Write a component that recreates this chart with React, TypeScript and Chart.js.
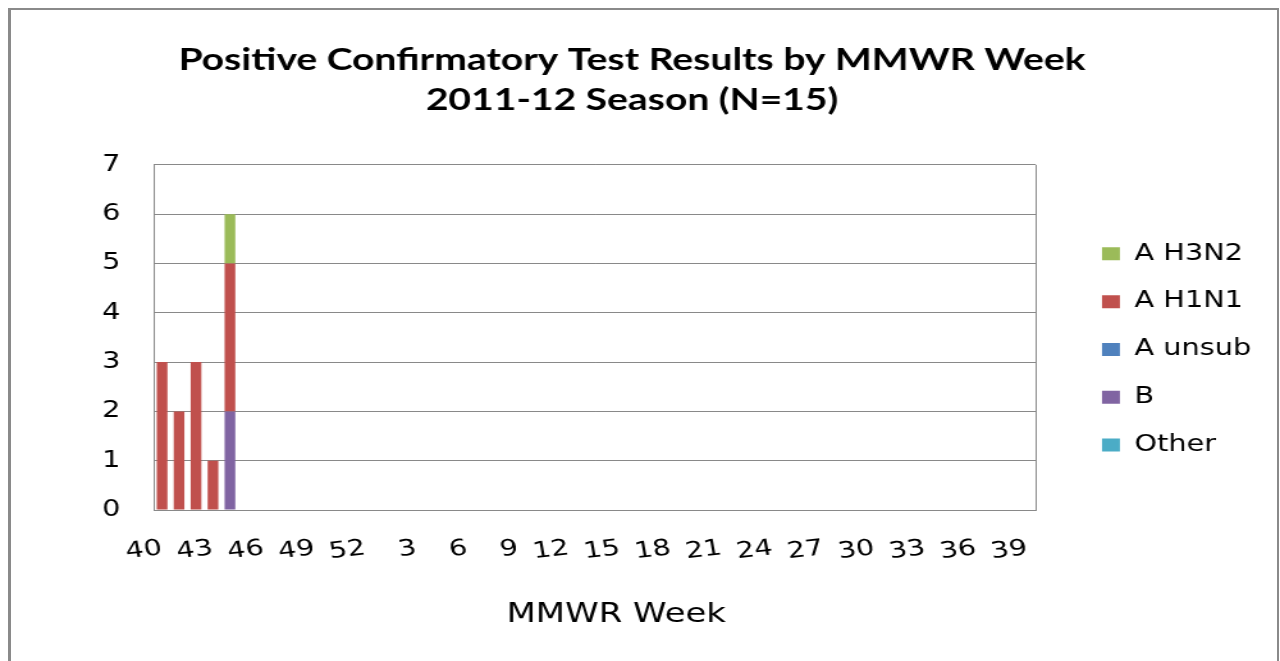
import React, { useEffect, useRef } from 'react';
import { Chart, registerables } from 'chart.js';

Chart.register(...registerables);

// MMWR weeks of the 2011-12 season
const weeks = [
  '40', '41', '42', '43', '44', '45', '46', '47', '48', '49', '50', '51', '52',
  '1', '2', '3', '4', '5', '6', '7', '8', '9', '10', '11', '12', '13',
  '14', '15', '16', '17', '18', '19', '20', '21', '22', '23', '24', '25', '26',
  '27', '28', '29', '30', '31', '32', '33', '34', '35', '36', '37', '38', '39',
];

// tick labels shown on the category axis
const shownTicks = ['40', '43', '46', '49', '52', '3', '6', '9', '12', '15', '18', '21', '24', '27', '30', '33', '36', '39'];

const yTicks = [0, 1, 2, 3, 4, 5, 6, 7];

// series values (per week)
const aH3N2 = [
  0, 0, 0, 0, 1, 0, 0, 0, 0, 0, 0, 0, 0,
  0, 0, 0, 0, 0, 0, 0, 0, 0, 0, 0, 0, 0,
  0, 0, 0, 0, 0, 0, 0, 0, 0, 0, 0, 0, 0,
  0, 0, 0, 0, 0, 0, 0, 0, 0, 0, 0, 0, 0,
];
const aH1N1 = [
  3, 2, 3, 1, 3, 0, 0, 0, 0, 0, 0, 0, 0,
  0, 0, 0, 0, 0, 0, 0, 0, 0, 0, 0, 0, 0,
  0, 0, 0, 0, 0, 0, 0, 0, 0, 0, 0, 0, 0,
  0, 0, 0, 0, 0, 0, 0, 0, 0, 0, 0, 0, 0,
];
const aUnsub = [
  0, 0, 0, 0, 0, 0, 0, 0, 0, 0, 0, 0, 0,
  0, 0, 0, 0, 0, 0, 0, 0, 0, 0, 0, 0, 0,
  0, 0, 0, 0, 0, 0, 0, 0, 0, 0, 0, 0, 0,
  0, 0, 0, 0, 0, 0, 0, 0, 0, 0, 0, 0, 0,
];
const typeB = [
  0, 0, 0, 0, 2, 0, 0, 0, 0, 0, 0, 0, 0,
  0, 0, 0, 0, 0, 0, 0, 0, 0, 0, 0, 0, 0,
  0, 0, 0, 0, 0, 0, 0, 0, 0, 0, 0, 0, 0,
  0, 0, 0, 0, 0, 0, 0, 0, 0, 0, 0, 0, 0,
];
const other = [
  0, 0, 0, 0, 0, 0, 0, 0, 0, 0, 0, 0, 0,
  0, 0, 0, 0, 0, 0, 0, 0, 0, 0, 0, 0, 0,
  0, 0, 0, 0, 0, 0, 0, 0, 0, 0, 0, 0, 0,
  0, 0, 0, 0, 0, 0, 0, 0, 0, 0, 0, 0, 0,
];

const titleLines = ['Positive Confirmatory Test Results by MMWR Week', '2011-12 Season (N=15)'];
const xTitle = 'MMWR Week';

const GRAY = '#898989';
const TEXT = '#000000';

const plotBorder = {
  id: 'plotBorder',
  beforeDatasetsDraw(chart: any) {
    const { ctx, chartArea } = chart;
    ctx.save();
    ctx.strokeStyle = GRAY;
    ctx.lineWidth = 1;
    ctx.beginPath();
    ctx.moveTo(Math.round(chartArea.right) + 0.5, chartArea.top);
    ctx.lineTo(Math.round(chartArea.right) + 0.5, chartArea.bottom);
    ctx.stroke();
    ctx.restore();
  },
};

export default function App() {
  const ref = useRef<HTMLCanvasElement | null>(null);

  useEffect(() => {
    const canvas = ref.current;
    if (!canvas) return;
    const bar = (label: string, data: number[], color: string) => ({
      label,
      data,
      backgroundColor: color,
      borderWidth: 0,
      barPercentage: 0.63,
      categoryPercentage: 1,
    });
    const chart = new Chart(canvas, {
      type: 'bar',
      data: {
        labels: weeks,
        datasets: [
          bar('Other', other, '#4BACC6'),
          bar('B', typeB, '#8064A2'),
          bar('A unsub', aUnsub, '#4F81BD'),
          bar('A H1N1', aH1N1, '#C0504D'),
          bar('A H3N2', aH3N2, '#9BBB59'),
        ],
      },
      options: {
        responsive: false,
        animation: false,
        devicePixelRatio: 1,
        layout: { padding: { left: 0, right: 12.5, top: 0, bottom: 0 } },
        plugins: {
          tooltip: { enabled: false },
          title: {
            display: true,
            text: titleLines,
            color: TEXT,
            font: { family: 'Lato', weight: 'bold', size: 30.5, lineHeight: 1.31 },
            padding: { top: 40, bottom: 45 },
          },
          legend: {
            display: true,
            position: 'right',
            fullSize: false,
            reverse: true,
            title: { display: true, text: '', font: { size: 10 }, padding: { top: 6, bottom: 6 } },
            labels: {
              boxWidth: 14,
              boxHeight: 13,
              padding: 25.3,
              color: TEXT,
              font: { family: 'DejaVu Sans', size: 22.5 },
            },
          },
        },
        scales: {
          x: {
            stacked: true,
            grid: { display: false, drawTicks: false },
            border: { display: true, color: GRAY, width: 1 },
            ticks: {
              autoSkip: false,
              minRotation: 8,
              maxRotation: 8,
              padding: 25,
              color: TEXT,
              font: { family: 'DejaVu Sans', size: 22.5 },
              callback: (_v: any, i: number) => (shownTicks.includes(weeks[i]) ? weeks[i] : ''),
            },
            title: {
              display: true,
              text: '    ' + xTitle,
              color: TEXT,
              font: { family: 'DejaVu Sans', size: 26.5 },
              padding: { top: 0, bottom: 30 },
            },
            afterFit: (s: any) => {
              s.height = 151;
            },
          },
          y: {
            stacked: true,
            min: yTicks[0],
            max: yTicks[yTicks.length - 1],
            grid: { display: true, color: GRAY, lineWidth: 1, drawTicks: false },
            border: { display: true, color: GRAY, width: 1 },
            ticks: {
              stepSize: 1,
              padding: 26,
              color: TEXT,
              font: { family: 'DejaVu Sans', size: 22.5 },
            },
            afterFit: (s: any) => {
              s.width = 120;
            },
          },
          spacer: {
            type: 'linear',
            position: 'right',
            display: true,
            grid: { display: false, drawTicks: false },
            border: { display: false },
            ticks: { display: false },
            afterFit: (s: any) => {
              s.width = 26.5;
            },
          },
        },
      },
      plugins: [plotBorder],
    } as any);
    return () => chart.destroy();
  }, []);

  return (
    <div style={{ position: 'fixed', left: 0, top: 0, width: 1280, height: 661, background: '#fff', overflow: 'hidden' }}>
      <canvas
        ref={ref}
        width={1000}
        height={661}
        style={{ position: 'absolute', left: 0, top: 0, width: '1280px', height: '661px', display: 'block' }}
      />
      <div
        style={{
          position: 'absolute',
          left: 8,
          top: 8,
          width: 1271,
          height: 700,
          boxSizing: 'border-box',
          borderStyle: 'solid',
          borderColor: '#8a8a8a',
          borderWidth: '2px 2px 2px 3px',
          pointerEvents: 'none',
        }}
      />
    </div>
  );
}
